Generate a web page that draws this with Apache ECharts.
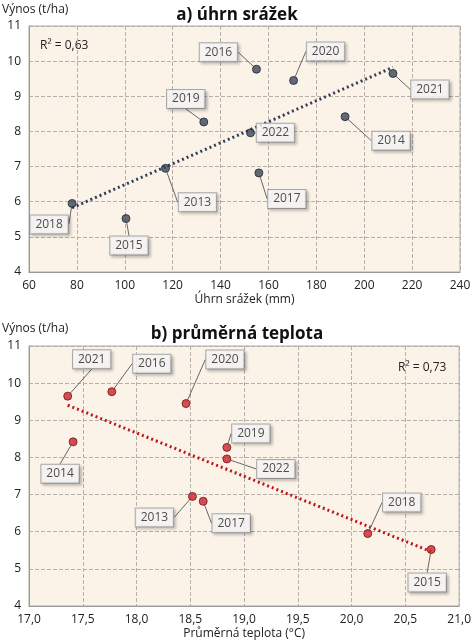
<!DOCTYPE html><html><head><meta charset="utf-8"><script src="https://cdn.jsdelivr.net/npm/echarts@6/dist/echarts.min.js"></script><style>html,body{margin:0;background:#fff}#c{width:474px;height:641px}</style></head><body><div id="c"></div><script>
const years=['2013','2014','2015','2016','2017','2018','2019','2020','2021','2022'];
const rain=[117,192,100.5,155,156,78,133,170.5,212,152.5];
const temp=[18.52,17.41,20.74,17.77,18.62,20.15,18.84,18.46,17.36,18.84];
const yieldV=[6.95,8.42,5.52,9.77,6.82,5.95,8.27,9.45,9.65,7.96];
const offA=[[32,34],[46,24],[3,27],[-38,-17],[28,26],[-23,21],[-18,-23],[32,-29],[37,16],[25,0]];
const offB=[[-38,21],[-13,32],[-4,33],[40,-28],[28,22],[34,-31],[24,-14],[39,-44],[24,-37],[49,10]];
function reg(xs,ys){const n=xs.length;let mx=0,my=0;for(let i=0;i<n;i++){mx+=xs[i];my+=ys[i];}mx/=n;my/=n;let sxy=0,sxx=0;for(let i=0;i<n;i++){sxy+=(xs[i]-mx)*(ys[i]-my);sxx+=(xs[i]-mx)**2;}const b=sxy/sxx;return x=>my+b*(x-mx);}
const fa=reg(rain,yieldV),fb=reg(temp,yieldV);
const minR=Math.min(...rain),maxR=Math.max(...rain),minT=Math.min(...temp),maxT=Math.max(...temp);
const font='Open Sans';
const lbl={show:true,position:'inside',formatter:p=>years[p.dataIndex],color:'#222',fontSize:12,fontFamily:font,backgroundColor:'#fff',borderColor:'#999',borderWidth:1,padding:[3,5],shadowColor:'rgba(0,0,0,0.25)',shadowBlur:3,shadowOffsetX:2,shadowOffsetY:2};
const split={show:true,lineStyle:{type:'dashed',color:'#b5b0aa'}};
const axl={show:true,lineStyle:{color:'#999'}};
function xa(gi,min,max,iv,name,fmt){return {gridIndex:gi,type:'value',min,max,interval:iv,name,nameLocation:'middle',nameGap:22,nameTextStyle:{fontFamily:font,fontSize:12,color:'#222'},axisLabel:{fontFamily:font,fontSize:12,color:'#222',formatter:fmt},splitLine:split,axisLine:axl,axisTick:{show:false}};}
function ya(gi){return {gridIndex:gi,type:'value',min:4,max:11,interval:1,axisLabel:{fontFamily:font,fontSize:12,color:'#222'},splitLine:split,axisLine:axl,axisTick:{show:false}};}
const ch=echarts.init(document.getElementById('c'));
ch.setOption({animation:false,
title:[{text:'a) úhrn srážek',left:'center',top:2,textStyle:{fontFamily:font,fontSize:17,fontWeight:'bold',color:'#111'}},{text:'b) průměrná teplota',left:'center',top:321,textStyle:{fontFamily:font,fontSize:17,fontWeight:'bold',color:'#111'}}],
graphic:[{type:'text',left:2,top:4,style:{text:'Výnos (t/ha)',font:'12px "Open Sans"',fill:'#222'}},{type:'text',left:2,top:323,style:{text:'Výnos (t/ha)',font:'12px "Open Sans"',fill:'#222'}},
{type:'text',left:40,top:40,style:{text:'R² = 0,63',font:'12px "Open Sans"',fill:'#222'}},{type:'text',left:398,top:362,style:{text:'R² = 0,73',font:'12px "Open Sans"',fill:'#222'}}],
grid:[{left:29,right:14,top:26,bottom:369,show:true,borderColor:'#aaa',backgroundColor:'#fcf3e8'},{left:29,right:14,top:346,bottom:24,show:true,borderColor:'#aaa',backgroundColor:'#fcf3e8'}],
xAxis:[xa(0,60,240,20,'Úhrn srážek (mm)'),xa(1,17,21,0.5,'Průměrná teplota (°C)',v=>v.toFixed(1).replace('.',','))],
yAxis:[ya(0),ya(1)],
series:[
{type:'line',xAxisIndex:0,yAxisIndex:0,data:[[minR,fa(minR)],[maxR,fa(maxR)]],symbol:'none',lineStyle:{type:[2,3],width:3,color:'#2f3e55'},z:1},
{type:'line',xAxisIndex:1,yAxisIndex:1,data:[[minT,fb(minT)],[maxT,fb(maxT)]],symbol:'none',lineStyle:{type:[2,3],width:3,color:'#c0141c'},z:1},
{type:'scatter',xAxisIndex:0,yAxisIndex:0,data:rain.map((x,i)=>[x,yieldV[i]]),symbolSize:8,itemStyle:{color:'#3a4658',borderColor:'#1e2633',borderWidth:1},label:lbl,labelLine:{show:true,lineStyle:{color:'#666',width:1}},labelLayout:p=>({dx:offA[p.dataIndex][0],dy:offA[p.dataIndex][1]}),z:3},
{type:'scatter',xAxisIndex:1,yAxisIndex:1,data:temp.map((x,i)=>[x,yieldV[i]]),symbolSize:8,itemStyle:{color:'#c4232a',borderColor:'#7a1015',borderWidth:1},label:lbl,labelLine:{show:true,lineStyle:{color:'#666',width:1}},labelLayout:p=>({dx:offB[p.dataIndex][0],dy:offB[p.dataIndex][1]}),z:3}
]});
</script></body></html>
